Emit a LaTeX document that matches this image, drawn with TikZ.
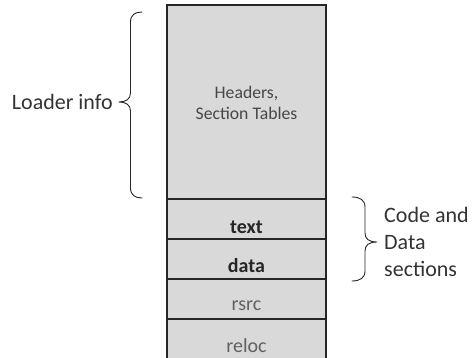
\documentclass[tikz,border=0pt]{standalone}
\usepackage{fontspec}
\setmainfont{Carlito}
\begin{document}
\begin{tikzpicture}[x=1pt,y=-1pt,
  sect/.style={draw=black!85,line width=1.1pt,fill=black!15,minimum width=159pt,inner sep=0pt,outer sep=0pt,anchor=north west},
  brace/.style={draw=black!85,line width=0.9pt,line join=round,line cap=round},
  side/.style={text=black!80,font=\fontsize{22}{26.8}\selectfont,inner sep=0pt,align=left},
  bold/.style={text=black!85,font=\fontsize{20}{24}\selectfont\bfseries,inner sep=0pt},
  light/.style={text=black!62,font=\fontsize{20}{24}\selectfont,inner sep=0pt}]
\useasboundingbox (0,0) rectangle (472,358);
\clip (0,0) rectangle (472,358);
\node[sect,minimum height=194pt] (hdr) at (167,5) {};
\node[sect,minimum height=40pt] (txt) at (167,199) {};
\node[sect,minimum height=40pt] (dat) at (167,239) {};
\node[sect,minimum height=40pt] (rsr) at (167,279) {};
\node[sect,minimum height=60pt] (rel) at (167,319) {};
\node[text=black!72,font=\fontsize{17.7}{21}\selectfont,align=center,inner sep=0pt] (hdrt) at (246.5,103) {Headers,\\Section Tables};
\node[bold] (txtt) at (246.5,227) {text};
\node[bold] (datt) at (246.5,266) {data};
\node[light] (rsrt) at (246.5,306) {rsrc};
\node[light] (relt) at (246.5,346) {reloc};
\node[side,anchor=east] (li) at (113,102) {Loader info};
\node[side,anchor=west] (cd) at (384,242) {Code and\\Data\\sections};
\coordinate (lb) at (119,102);
\coordinate (rb) at (377,242);
\draw[brace] (142,12) .. controls (135,12) and (130.5,15) .. (130.5,22) -- (130.5,93)
  .. controls (130.5,99) and (126,102) .. (lb)
  .. controls (126,102) and (130.5,105) .. (130.5,111) -- (130.5,188)
  .. controls (130.5,195) and (135,198) .. (142,198);
\draw[brace] (352,197) .. controls (360,197) and (365,200) .. (365,207) -- (365,233)
  .. controls (365,239) and (369,242) .. (rb)
  .. controls (369,242) and (365,245) .. (365,251) -- (365,271)
  .. controls (365,278) and (360,281) .. (352,281);
\end{tikzpicture}
\end{document}
